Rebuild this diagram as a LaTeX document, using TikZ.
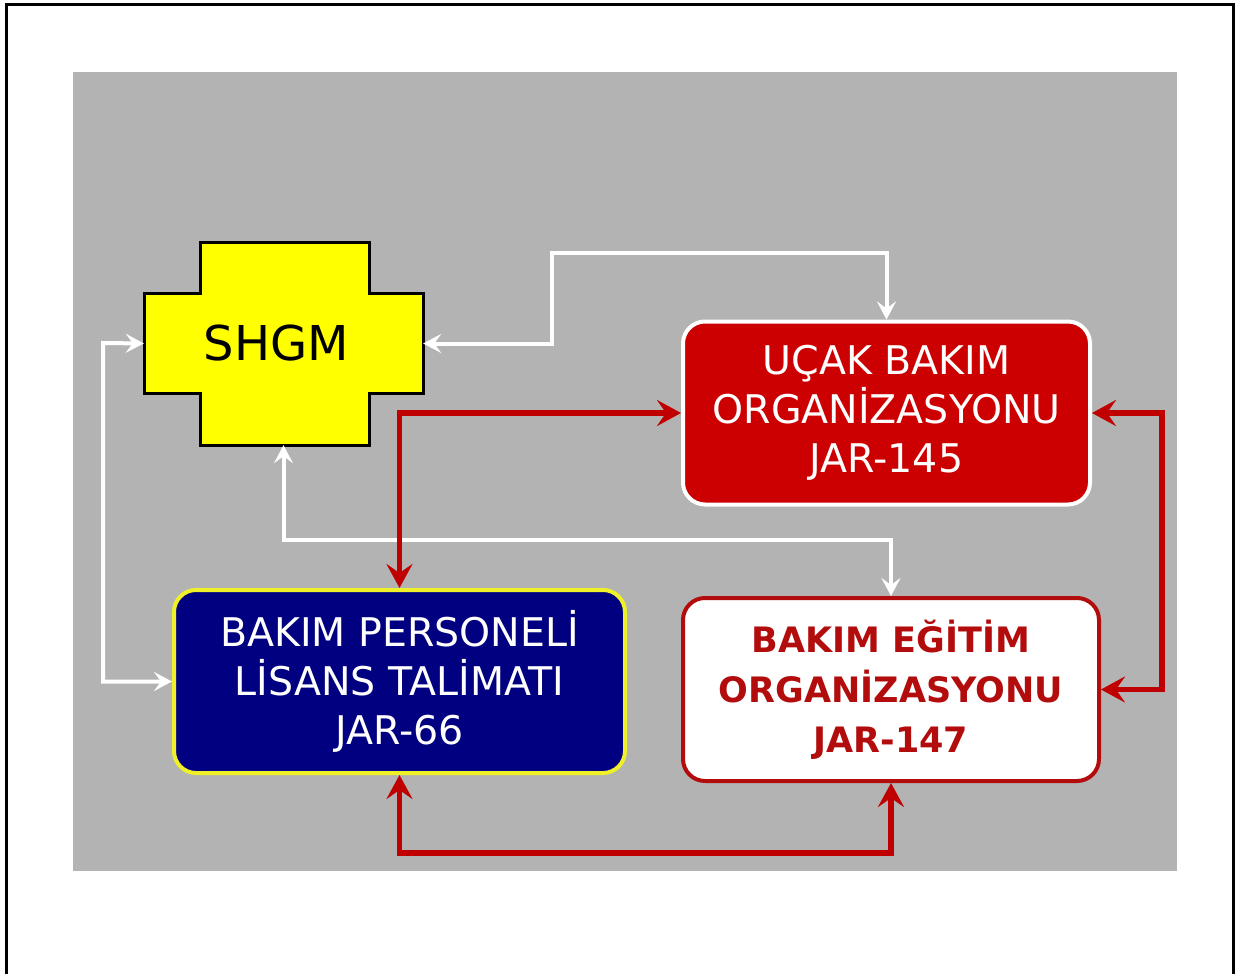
\documentclass[tikz,border=0pt]{standalone}
\usepackage{fontspec}
\setmainfont{DejaVu Sans}
\usepackage{tikz}
\usetikzlibrary{
    arrows.meta,
    positioning,
    calc
}
\definecolor{panelgray}{RGB}{179,179,179}
\definecolor{shgmyellow}{RGB}{255,255,0}
\definecolor{orgred}{RGB}{204,0,0}
\definecolor{linkred}{RGB}{192,0,0}
\definecolor{darkred}{RGB}{178,12,12}
\definecolor{navyblue}{RGB}{0,0,128}
\definecolor{rimyellow}{RGB}{240,240,40}
\tikzstyle{authority} = [
    rectangle,
    minimum width=279pt,
    minimum height=203pt,
    inner sep=0pt,
    font=\fontsize{48}{56}\selectfont
]
\tikzstyle{org} = [
    rectangle,
    rounded corners=22pt,
    line width=4pt,
    minimum height=183pt,
    align=center,
    font=\fontsize{39.5}{49}\selectfont
]
\tikzstyle{redlink} = [
    {Stealth[length=24pt,width=26pt,inset=9pt]}-{Stealth[length=24pt,width=26pt,inset=9pt]},
    line width=5.5pt,
    draw=linkred
]
\tikzstyle{whitelink} = [
    {Stealth[length=18pt,width=19pt,inset=7pt]}-{Stealth[length=18pt,width=19pt,inset=7pt]},
    line width=4pt,
    draw=white
]
\begin{document}
\begin{tikzpicture}[x=1pt, y=-1pt]
        \useasboundingbox (0,0) rectangle (1235,974);
        % frame and panel
        \draw[line width=3pt] (6,974) -- (6,5) -- (1233,5) -- (1233,974);
        \fill[panelgray] (73,72) rectangle (1177,871);

        % SHGM cross
        \draw[fill=shgmyellow, line width=3pt] (200,242) -- (369,242) -- (369,293) -- (423,293)
            -- (423,393) -- (369,393) -- (369,445) -- (200,445) -- (200,393) -- (144,393)
            -- (144,293) -- (200,293) -- cycle;
        \node[authority] (shgm) at (283.5,343.5) {SHGM\hspace*{14pt}};

        % Organisations
        \node[org, draw=white, fill=orgred, text=white, minimum width=407pt] (ucak) at (886.5,413)
            {UÇAK BAKIM\\ORGANİZASYONU\\JAR-145};
        \node[org, draw=rimyellow, fill=navyblue, text=white, minimum width=451pt] (lisans) at (399.5,681.5)
            {BAKIM PERSONELİ\\LİSANS TALİMATI\\JAR-66};
        \node[org, draw=darkred, fill=white, text=darkred, minimum width=416pt,
            font=\fontsize{35}{50}\selectfont\bfseries] (egitim) at (891,689.5)
            {BAKIM EĞİTİM\\ORGANİZASYONU\\JAR-147};

        % White links to SHGM
        \coordinate (wa) at (552,253);
        \coordinate (wb) at (103,343);
        \coordinate (wc) at (283.5,540);
        \draw[whitelink] (shgm.east) -| (wa) -| (ucak.north);
        \draw[whitelink] (shgm.west) -- (wb) |- (lisans.west);
        \draw[whitelink] (shgm.south) -- (wc) -| (egitim.north);

        % Red links between organisations
        \coordinate (ra) at (1162,413);
        \draw[redlink] (lisans.north) |- (ucak.west);
        \draw[redlink] (ucak.east) -- (ra) |- (egitim.east);
        \draw[redlink] (lisans.south) -- ++(0,78) -| (egitim.south);
    \end{tikzpicture}
\end{document}
